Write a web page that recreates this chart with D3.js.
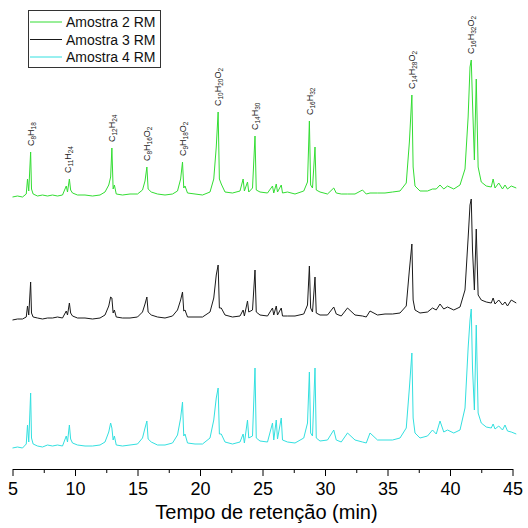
<!DOCTYPE html>
<html>
<head>
<meta charset="utf-8">
<script src="https://cdn.jsdelivr.net/npm/d3@7"></script>
<style>
body { margin: 0; background: #fff; }
text { font-family: Arial, "Liberation Sans", sans-serif; }
</style>
</head>
<body>
<div id="output"></div>
<script>
var seriesNames = ["Amostra 2 RM", "Amostra 3 RM", "Amostra 4 RM"];
var seriesColors = ["#33dd33", "#1a1a1a", "#33e0e0"];
// vertical offset of each trace (same units as intensity)
var offsets = [272, 149, 21];

var times = [5.0, 5.4, 5.8, 6.1, 6.2, 6.3, 6.45, 6.52, 6.65, 7.0,
    7.4, 7.8, 8.2, 8.6, 9.0, 9.3, 9.4, 9.55, 9.65, 9.8,
    10.2, 10.8, 11.4, 12.0, 12.4, 12.7, 12.85, 12.95, 13.05, 13.15,
    13.3, 13.8, 14.4, 15.0, 15.4, 15.6, 15.75, 15.85, 16.1, 16.6,
    17.2, 17.8, 18.2, 18.45, 18.6, 18.7, 18.8, 19.0, 19.6, 20.2,
    20.8, 21.1, 21.3, 21.45, 21.55, 21.7, 22.0, 22.6, 23.2, 23.45,
    23.55, 23.8, 23.9, 24.2, 24.4, 24.5, 24.8, 25.4, 25.8, 25.9,
    26.1, 26.2, 26.5, 26.6, 27.0, 27.6, 28.3, 28.6, 28.75, 28.85,
    29.0, 29.2, 29.3, 29.6, 30.2, 30.7, 30.9, 31.3, 31.8, 32.4,
    33.0, 33.3, 33.6, 34.2, 34.8, 35.4, 36.0, 36.5, 36.75, 36.95,
    37.05, 37.2, 37.6, 38.2, 38.6, 38.9, 39.2, 39.5, 39.8, 40.3,
    40.8, 41.2, 41.45, 41.6, 41.7, 41.8, 41.95, 42.1, 42.25, 42.5,
    42.9, 43.3, 43.45, 43.6, 43.9, 44.2, 44.4, 44.6, 44.9, 45.3];

var amostra2 = [0, 1, 0, 3, 18, 6, 45, 8, 3, 1,
    2, 1, 2, 1, 2, 11, 5, 18, 7, 4,
    2, 2, 1, 2, 5, 12, 20, 49, 8, 12,
    3, 2, 3, 3, 7, 16, 30, 8, 5, 3,
    2, 3, 6, 18, 35, 9, 11, 4, 3, 2,
    5, 18, 50, 85, 18, 13, 5, 4, 6, 18,
    6, 15, 5, 9, 61, 7, 5, 4, 11, 4,
    13, 5, 12, 4, 5, 3, 6, 15, 76, 12,
    9, 50, 7, 5, 3, 9, 4, 3, 3, 3,
    7, 3, 4, 4, 4, 5, 6, 14, 55, 102,
    30, 11, 6, 6, 8, 8, 12, 8, 11, 8,
    12, 28, 80, 130, 137, 95, 37, 118, 30, 15,
    11, 10, 18, 9, 14, 8, 12, 8, 11, 9];

var amostra3 = [0, 1, 1, 3, 14, 5, 38, 7, 3, 2,
    1, 2, 2, 3, 2, 9, 5, 17, 7, 4,
    2, 2, 1, 2, 5, 14, 23, 22, 7, 10,
    3, 2, 2, 3, 8, 16, 23, 8, 5, 3,
    2, 4, 10, 20, 28, 9, 10, 3, 3, 3,
    8, 22, 45, 55, 12, 12, 5, 3, 4, 10,
    4, 19, 8, 10, 50, 8, 5, 4, 12, 5,
    14, 5, 12, 4, 4, 4, 6, 15, 54, 12,
    8, 43, 7, 5, 5, 13, 6, 4, 12, 5,
    4, 3, 9, 5, 6, 6, 7, 14, 50, 76,
    20, 10, 7, 8, 12, 10, 16, 11, 13, 10,
    13, 30, 82, 115, 121, 70, 30, 91, 25, 20,
    18, 17, 22, 16, 20, 15, 18, 14, 20, 17];

var amostra4 = [0, 1, 0, 4, 23, 6, 55, 10, 4, 2,
    1, 3, 2, 3, 2, 12, 6, 23, 9, 5,
    3, 2, 2, 3, 6, 16, 25, 20, 8, 12,
    3, 2, 3, 4, 10, 20, 27, 9, 6, 3,
    3, 5, 13, 30, 46, 12, 14, 5, 4, 4,
    10, 28, 50, 60, 14, 14, 6, 4, 6, 14,
    5, 28, 10, 12, 80, 10, 7, 6, 25, 8,
    28, 9, 30, 8, 6, 5, 10, 25, 76, 15,
    12, 80, 10, 7, 8, 18, 8, 6, 15, 8,
    6, 5, 15, 8, 8, 8, 10, 20, 60, 95,
    30, 15, 10, 12, 18, 14, 27, 16, 18, 15,
    18, 40, 100, 128, 139, 80, 38, 123, 35, 25,
    21, 20, 24, 19, 22, 18, 23, 17, 16, 14];

var peakLabels = ["C8H18", "C11H24", "C12H24", "C8H16O2", "C9H18O2",
    "C10H20O2", "C14H30", "C16H32", "C14H28O2", "C16H32O2"];
var peakTimes = [6.45, 9.45, 12.95, 15.75, 18.6, 21.45, 24.4, 28.8, 36.95, 41.7];

var xTicks = [5, 10, 15, 20, 25, 30, 35, 40, 45];
var xMinorTicks = [7.5, 12.5, 17.5, 22.5, 27.5, 32.5, 37.5, 42.5];

var series = [amostra2, amostra3, amostra4];

var w = 528;
var h = 528;
var chartMargin = {top: 9, right: 15.5, bottom: 59, left: 12.5},
    wChart = w - chartMargin.left - chartMargin.right,
    hChart = h - chartMargin.top - chartMargin.bottom;

var x = d3.scaleLinear()
    .domain([5, 45])
    .range([0, wChart]);

var y = d3.scaleLinear()
    .domain([0, 460])
    .range([hChart, 0]);

var svg = d3.select("#output").append("svg")
    .attr("width", w)
    .attr("height", h)
    .style("background", "#fff");

var chart = svg.append("g")
    .attr("transform", "translate(" + chartMargin.left + "," + chartMargin.top + ")");

// traces
series.forEach(function (vals, k) {
    var pts = times.map(function (t, i) { return [t, vals[i]]; });
    var line = d3.line()
        .x(function (d) { return x(d[0]); })
        .y(function (d) { return y(d[1] + offsets[k]); });
    chart.append("path")
        .datum(pts)
        .attr("fill", "none")
        .attr("stroke", seriesColors[k])
        .attr("stroke-width", 1)
        .attr("stroke-linejoin", "round")
        .attr("d", line);
});

// peak labels above the top trace
function peakValue(t) {
    var m = 0;
    times.forEach(function (tt, i) {
        if (Math.abs(tt - t) <= 0.2 && amostra2[i] > m) m = amostra2[i];
    });
    return m;
}

peakLabels.forEach(function (lab, i) {
    var t = peakTimes[i];
    var py = y(peakValue(t) + offsets[0]) - 6;
    var txt = chart.append("text")
        .attr("transform", "translate(" + (x(t) + 3) + "," + py + ") rotate(-90)")
        .attr("font-size", 9)
        .attr("fill", "#222");
    var parts = lab.match(/[A-Z][a-z]?|\d+/g);
    var shifted = false;
    parts.forEach(function (p) {
        var isSub = /\d/.test(p);
        var ts = txt.append("tspan").text(p);
        if (isSub) {
            ts.attr("font-size", 6.5).attr("dy", 2);
            shifted = true;
        } else if (shifted) {
            ts.attr("dy", -2);
            shifted = false;
        }
    });
});

// axis
var xAxis = d3.axisBottom(x)
    .tickValues(xTicks)
    .tickSize(7)
    .tickSizeOuter(0)
    .tickPadding(6);

var gx = chart.append("g")
    .attr("transform", "translate(0," + hChart + ")")
    .call(xAxis);
gx.selectAll("text")
    .attr("font-size", 18)
    .attr("font-family", "Arial, 'Liberation Sans', sans-serif")
    .attr("fill", "#000");
gx.selectAll("line, path").attr("stroke", "#000");

var gMinor = chart.append("g")
    .attr("transform", "translate(0," + hChart + ")")
    .call(d3.axisBottom(x).tickValues(xMinorTicks).tickSize(4).tickSizeOuter(0).tickFormat(""));
gMinor.select(".domain").remove();
gMinor.selectAll("line").attr("stroke", "#000");

svg.append("text")
    .attr("x", chartMargin.left + wChart / 2 + 4)
    .attr("y", 519)
    .attr("text-anchor", "middle")
    .attr("font-size", 20)
    .attr("fill", "#000")
    .text("Tempo de retenção (min)");

// legend
var legend = svg.append("g");
legend.append("rect")
    .attr("x", 28.5)
    .attr("y", 10.5)
    .attr("width", 132)
    .attr("height", 57)
    .attr("fill", "#fff")
    .attr("stroke", "#333")
    .attr("stroke-width", 1);
seriesNames.forEach(function (name, i) {
    var ly = 22 + i * 17.5;
    legend.append("line")
        .attr("x1", 30).attr("x2", 62)
        .attr("y1", ly).attr("y2", ly)
        .attr("stroke", seriesColors[i])
        .attr("stroke-width", 1);
    legend.append("text")
        .attr("x", 66)
        .attr("y", ly + 5)
        .attr("font-size", 14)
        .attr("fill", "#111")
        .text(name);
});
</script>
</body>
</html>
